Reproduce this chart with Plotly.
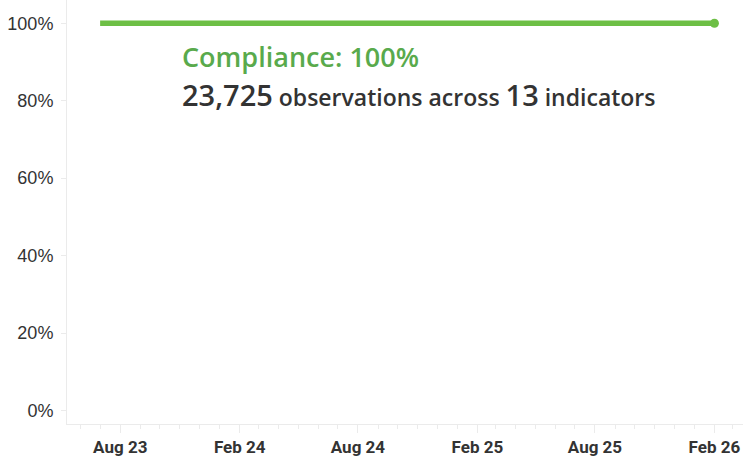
import plotly.graph_objects as go
import pandas as pd

months = pd.date_range("2023-07-01", "2026-02-01", freq="MS")
compliance = [100] * len(months)

tick_dates = ["2023-08-01", "2024-02-01", "2024-08-01", "2025-02-01", "2025-08-01", "2026-02-01"]
tick_labels = ["Aug 23", "Feb 24", "Aug 24", "Feb 25", "Aug 25", "Feb 26"]
y_ticks = [0, 20, 40, 60, 80, 100]
y_labels = ["0%", "20%", "40%", "60%", "80%", "100%"]

headline = "Compliance: 100%"
observations = "23,725"
indicators = "13"

GREEN = "#6dbf45"

fig = go.Figure()
fig.add_trace(go.Scatter(
    x=months, y=compliance, mode="lines",
    line=dict(color=GREEN, width=5.5, shape="spline"),
    hoverinfo="skip", showlegend=False,
))
fig.add_trace(go.Scatter(
    x=[months[-1]], y=[compliance[-1]], mode="markers",
    marker=dict(color=GREEN, size=9),
    hoverinfo="skip", showlegend=False,
))

fig.add_annotation(
    xref="paper", yref="paper", x=0.167, y=0.866, xanchor="left", yanchor="middle",
    text=headline, showarrow=False,
    font=dict(family="Open Sans, sans-serif", size=27, color="#59aa4c", weight=600),
)
fig.add_annotation(
    xref="paper", yref="paper", x=0.167, y=0.778, xanchor="left", yanchor="middle",
    text=(f"<span style='font-size:29px'>{observations}</span>"
          f" observations across "
          f"<span style='font-size:29px'>{indicators}</span> indicators"),
    showarrow=False,
    font=dict(family="Open Sans, sans-serif", size=23, color="#333333", weight=600),
)

fig.update_layout(
    width=743, height=463,
    margin=dict(l=67, r=0, t=0, b=39),
    paper_bgcolor="white", plot_bgcolor="white",
    xaxis=dict(
        range=["2023-05-11", "2026-03-17"],
        tickvals=tick_dates, ticktext=tick_labels,
        showgrid=False, zeroline=False,
        showline=True, linecolor="#ebebeb", linewidth=1,
        ticks="outside", ticklen=8, tickcolor="#ebebeb",
        minor=dict(dtick="M1", tick0="2023-08-01", ticks="outside", ticklen=4, tickcolor="#ebebeb"),
        tickfont=dict(family="Roboto, sans-serif", size=17, color="#333333", weight=700),
    ),
    yaxis=dict(
        range=[-3.5, 106],
        tickvals=y_ticks, ticktext=y_labels,
        showgrid=False, zeroline=False,
        showline=True, linecolor="#ebebeb", linewidth=1,
        ticks="outside", ticklen=5, tickcolor="#ebebeb",
        ticklabelstandoff=4,
        tickfont=dict(family="Liberation Sans, Arial, sans-serif", size=18, color="#333333"),
    ),
)

fig.write_html("out.html", config={"displayModeBar": False},
               post_script="document.body.style.margin='0';document.body.style.overflow='hidden';")
